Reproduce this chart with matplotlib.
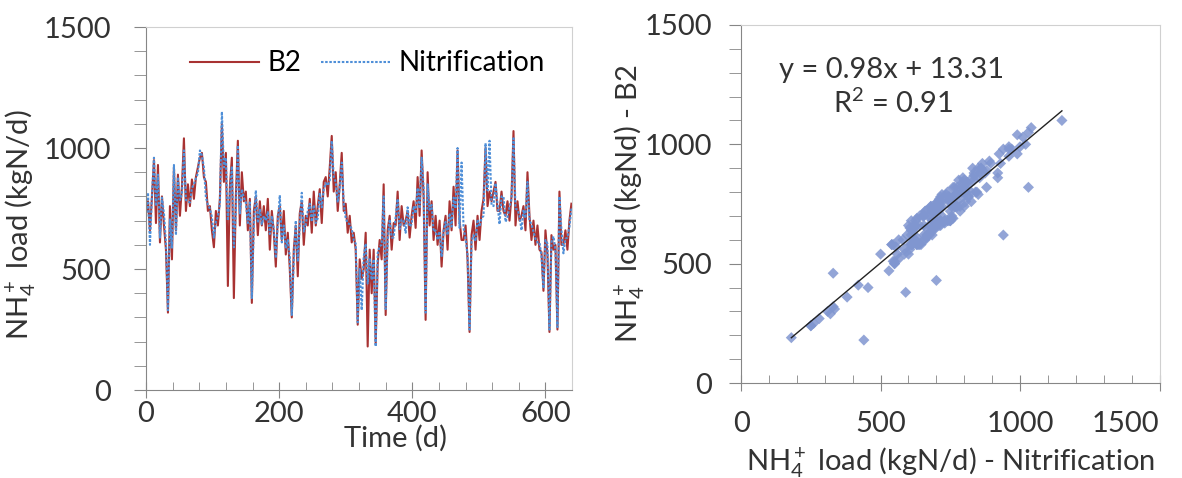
import numpy as np
import matplotlib
matplotlib.use("Agg")
from matplotlib import pyplot as plt
from matplotlib.ticker import MultipleLocator

####################################################

# Data (one value every 3 days)

days = np.arange(0, 640, 3)

b2 = [730, 780, 660, 800, 950, 690, 930, 610, 800, 680,
      580, 320, 760, 540, 920, 660, 890, 720, 840, 1040,
      740, 850, 760, 870, 790, 880, 920, 960, 980, 880,
      860, 740, 760, 660, 590, 740, 680, 790, 1100, 860,
      980, 430, 840, 960, 380, 800, 1030, 680, 900, 780,
      820, 660, 790, 360, 740, 800, 640, 780, 680, 760,
      660, 790, 580, 740, 650, 510, 720, 760, 620, 740,
      560, 650, 500, 300, 580, 680, 470, 730, 780, 600,
      720, 680, 790, 650, 820, 680, 760, 830, 690, 860,
      880, 800, 920, 1050, 820, 900, 740, 850, 980, 740,
      770, 650, 720, 610, 650, 580, 270, 540, 460, 500,
      650, 180, 580, 400, 580, 190, 520, 620, 540, 850,
      310, 660, 720, 580, 690, 680, 820, 620, 760, 680,
      700, 740, 630, 720, 780, 670, 880, 720, 990, 800,
      290, 900, 680, 780, 620, 720, 600, 700, 510, 660,
      720, 580, 780, 660, 840, 680, 990, 700, 620, 620,
      680, 540, 240, 640, 700, 580, 720, 620, 740, 790,
      1000, 760, 820, 780, 820, 860, 740, 740, 820, 740,
      720, 780, 700, 800, 1070, 680, 780, 700, 720, 760,
      660, 900, 720, 620, 700, 600, 680, 580, 570, 410,
      660, 560, 240, 640, 580, 600, 250, 820, 600, 600,
      660, 580, 700, 770]

nitrification = [715, 815, 600, 805, 960, 760, 890, 630, 795, 730,
                 610, 330, 705, 585, 930, 640, 880, 785, 810, 990,
                 785, 780, 775, 835, 850, 875, 895, 990, 970, 920,
                 795, 765, 750, 715, 630, 695, 715, 770, 1150, 920,
                 960, 700, 810, 925, 590, 740, 1010, 730, 830, 795,
                 775, 690, 775, 380, 680, 825, 690, 745, 685, 720,
                 700, 735, 645, 720, 665, 545, 690, 805, 610, 680,
                 585, 620, 550, 310, 540, 700, 530, 685, 815, 655,
                 685, 740, 770, 695, 765, 690, 710, 815, 755, 830,
                 855, 845, 865, 1030, 880, 860, 775, 835, 940, 770,
                 710, 690, 685, 665, 620, 605, 280, 500, 330, 550,
                 605, 440, 545, 455, 540, 180, 565, 595, 600, 800,
                 335, 620, 705, 630, 630, 715, 790, 665, 705, 700,
                 650, 755, 675, 685, 760, 730, 835, 750, 960, 840,
                 320, 850, 745, 765, 655, 660, 620, 655, 550, 655,
                 695, 640, 730, 675, 795, 750, 1000, 670, 940, 670,
                 625, 560, 250, 615, 640, 615, 705, 675, 710, 720,
                 1020, 825, 1030, 765, 760, 855, 770, 685, 800, 800,
                 695, 715, 755, 790, 1040, 750, 745, 720, 660, 745,
                 710, 860, 700, 685, 655, 625, 610, 610, 555, 420,
                 620, 605, 250, 610, 635, 580, 260, 800, 660, 565,
                 625, 630, 675, 750]

# trend line as printed on the chart
slope = 0.98
intercept = 13.31
r2 = 0.91

####################################################

plt.rcParams["font.family"] = ["Lato", "DejaVu Sans"]
plt.rcParams["mathtext.fontset"] = "custom"
plt.rcParams["mathtext.rm"] = "Lato"
plt.rcParams["mathtext.it"] = "Lato:italic"
plt.rcParams["font.size"] = 21

axis_col = "#868686"
frame_col = "#d0d0d0"
txt_col = "#333333"


def style_axes(ax):
    for s in ["left", "bottom"]:
        ax.spines[s].set_color(axis_col)
    for s in ["top", "right"]:
        ax.spines[s].set_color(frame_col)
    ax.tick_params(axis="y", which="both", direction="out", color=axis_col,
                   labelcolor=txt_col, pad=16)
    ax.tick_params(axis="y", which="major", length=9)
    ax.tick_params(axis="y", which="minor", length=9)
    ax.tick_params(axis="x", which="major", direction="inout", length=12, color=axis_col,
                   labelcolor=txt_col, pad=8)
    ax.tick_params(axis="x", which="minor", direction="in", length=6, color=axis_col)


fig = plt.figure(figsize=(11.82, 4.78), dpi=100)

# time series
ax1 = fig.add_axes([0.1235, 0.184, 0.3605, 0.7595])
ax1.plot(days, b2, color="#A83232", lw=1.5, label="B2")
ax1.plot(days, nitrification, color="#4F8FD8", lw=1.5, ls=(0, (1.2, 0.8)), label="Nitrification")
ax1.set_xlim(0, 640)
ax1.set_ylim(0, 1500)
ax1.xaxis.set_major_locator(MultipleLocator(200))
ax1.xaxis.set_minor_locator(MultipleLocator(40))
ax1.yaxis.set_major_locator(MultipleLocator(500))
ax1.yaxis.set_minor_locator(MultipleLocator(100))
style_axes(ax1)
ax1.tick_params(axis="x", which="major", pad=2)
ax1.set_xlabel("Time (d)", color=txt_col)
ax1.xaxis.set_label_coords(0.585, -0.096)
ax1.set_ylabel("NH$_4^+$ load (kgN/d)", color=txt_col)
ax1.yaxis.set_label_coords(-0.254, 0.455)
ax1.legend(loc="upper left", ncol=2, frameon=False, handlelength=2.5, fontsize=20,
           columnspacing=0.7, handletextpad=0.3, borderpad=0, borderaxespad=0,
           bbox_to_anchor=(0.103, 0.936))

# scatter
ax2 = fig.add_axes([0.627, 0.1987, 0.354, 0.749])
ax2.scatter(nitrification, b2, marker="D", s=32, color="#8096D0", alpha=0.85,
            edgecolors="none", zorder=2)
xs = np.array([min(nitrification), max(nitrification)])
ax2.plot(xs, slope * xs + intercept, color="#222222", lw=1, zorder=3)
ax2.set_xlim(0, 1500)
ax2.set_ylim(0, 1500)
ax2.set_xticks([0, 500, 1000, 1500])
xlabels = ax2.set_xticklabels(["0", "500", "1000", "1500"])
xlabels[-1].set_horizontalalignment("right")
ax2.xaxis.set_minor_locator(MultipleLocator(100))
ax2.yaxis.set_major_locator(MultipleLocator(500))
ax2.yaxis.set_minor_locator(MultipleLocator(100))
style_axes(ax2)
ax2.tick_params(axis="x", which="major", pad=14)
ax2.tick_params(axis="y", which="both", pad=12)
ax2.set_xlabel("NH$_4^+$ load (kgN/d) - Nitrification", color=txt_col, labelpad=6)
ax2.set_ylabel("NH$_4^+$ load (kgNd) - B2", color=txt_col)
ax2.yaxis.set_label_coords(-0.224, 0.5)
ax2.text(540, 1310, f"y = {slope:.2f}x + {intercept:.2f}", ha="center", va="center",
         color=txt_col, fontsize=21)
ax2.text(545, 1170, f"R$^2$ = {r2:.2f}", ha="center", va="center",
         color=txt_col, fontsize=21)

fig.savefig("out.png", dpi=100)
